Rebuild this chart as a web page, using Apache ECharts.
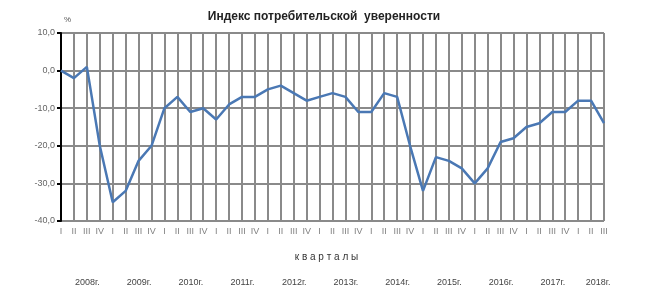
<!DOCTYPE html>
<html><head><meta charset="utf-8">
<script src="https://cdn.jsdelivr.net/npm/echarts@6/dist/echarts.min.js"></script>
<style>html,body{margin:0;padding:0;background:#fff}#c{width:648px;height:303px}</style>
</head><body><div id="c"></div>
<script>
const quarters = ['I','II','III','IV','I','II','III','IV','I','II','III','IV','I','II','III','IV','I','II','III','IV','I','II','III','IV','I','II','III','IV','I','II','III','IV','I','II','III','IV','I','II','III','IV','I','II','III'];
const values = [0,-2,1,-20, -35,-32,-24,-20, -10,-7,-11,-10, -13,-9,-7,-7, -5,-4,-6,-8, -7,-6,-7,-11, -11,-6,-7,-20, -32,-23,-24,-26, -30,-26,-19,-18, -15,-14,-11,-11, -8,-8,-14];
const years = ['2008г.','2009г.','2010г.','2011г.','2012г.','2013г.','2014г.','2015г.','2016г.','2017г.','2018г.'];
const yTicks = [10,0,-10,-20,-30,-40];
const titleText = 'Индекс потребительской  уверенности';
const axisName = 'к в а р т а л ы';

const chart = echarts.init(document.getElementById('c'), null, {renderer:'canvas'});
const option = {
  animation:false,
  backgroundColor:'#fff',
  title:{text:titleText,left:'center',top:6,textStyle:{fontFamily:'Arial, Liberation Sans',fontSize:12,fontWeight:'bold',color:'#222'}},
  grid:{left:61,right:44,top:33,bottom:82,containLabel:false},
  xAxis:{type:'category',data:quarters,boundaryGap:false,
    axisLine:{show:true,lineStyle:{color:'#8a8a8a',width:2}},
    axisTick:{show:false},
    axisLabel:{interval:0,fontFamily:'Arial, Liberation Sans',fontSize:9,color:'#808080',margin:6},
    splitLine:{show:true,lineStyle:{color:'#8a8a8a',width:2}}},
  yAxis:{type:'value',min:-40,max:10,interval:10,
    axisLine:{show:true,lineStyle:{color:'#000',width:2}},
    axisTick:{show:true,length:4,lineStyle:{color:'#000',width:2}},
    axisLabel:{fontFamily:'Arial, Liberation Sans',fontSize:9,color:'#666',margin:6,formatter:v=>v.toFixed(1).replace('.',',')},
    splitLine:{show:true,lineStyle:{color:'#8a8a8a',width:2}}},
  series:[{type:'line',data:values,symbol:'none',lineStyle:{color:'#4a78b4',width:2.5}}]
};
chart.setOption(option);

const g = [];
g.push({type:'text',left:64,top:16,style:{text:'%',font:'8px Arial',fill:'#555'}});
const x0 = chart.convertToPixel({xAxisIndex:0},0);
const xN = chart.convertToPixel({xAxisIndex:0},quarters.length-1);
g.push({type:'text',x:(x0+xN)/2 - 6,y:252,style:{text:axisName,font:'10px Arial',fill:'#333',align:'center'}});
let idx = 0;
years.forEach((y,i)=>{
  const n = Math.min(4, quarters.length-idx);
  const a = chart.convertToPixel({xAxisIndex:0},idx);
  const b = chart.convertToPixel({xAxisIndex:0},idx+n-1);
  g.push({type:'text',x:(a+b)/2+7,y:278,style:{text:y,font:'9px Arial',fill:'#444',align:'center'}});
  idx += n;
});
chart.setOption({graphic:g});
</script></body></html>
